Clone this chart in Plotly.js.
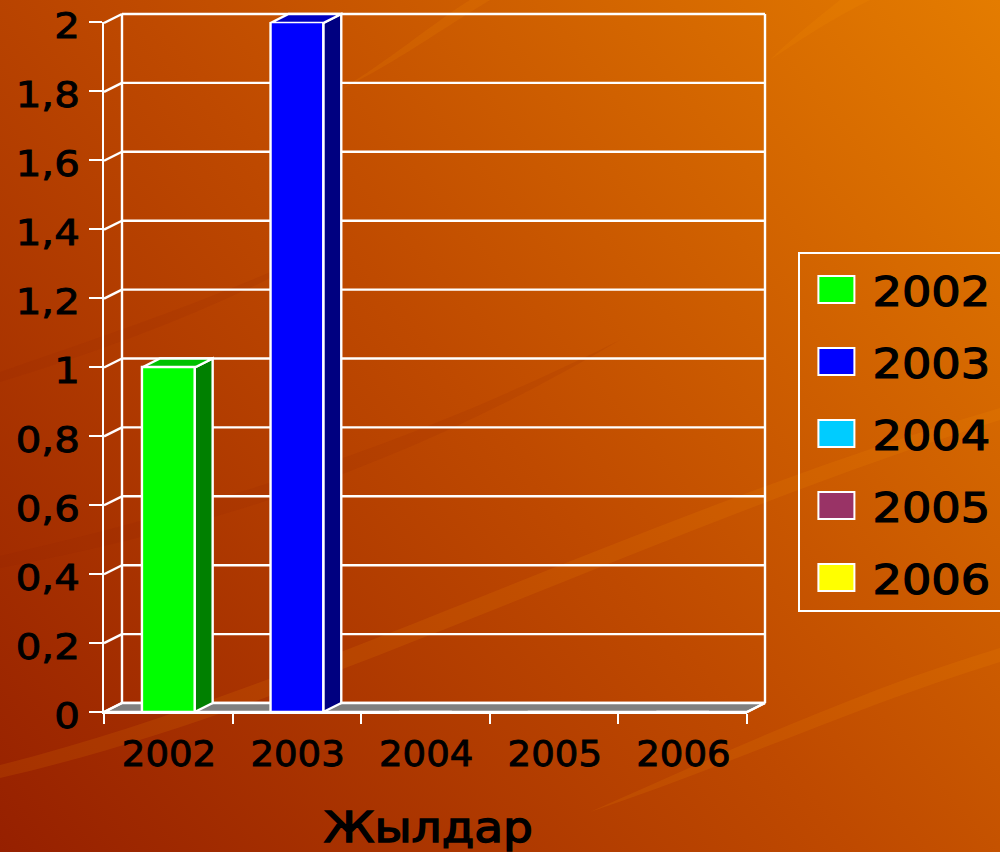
<!DOCTYPE html>
<html>
<head>
<meta charset="utf-8">
<script src="https://cdn.plot.ly/plotly-3.0.1.min.js"></script>
<style>
html,body{margin:0;padding:0;width:1000px;height:852px;overflow:hidden;background:#c04c00}
#bg{position:absolute;left:0;top:0}
#chart{position:absolute;left:0;top:0;width:1000px;height:852px}
</style>
</head>
<body>
<svg id="bg" width="1000" height="852" viewBox="0 0 1000 852">
<defs><linearGradient id="g" gradientUnits="userSpaceOnUse" x1="0" y1="852" x2="1000" y2="0">
<stop offset="0" stop-color="#962000"/><stop offset="0.5" stop-color="#bf4a00"/><stop offset="1" stop-color="#e47c00"/>
</linearGradient></defs>
<rect width="1000" height="852" fill="url(#g)"/>
<g fill="#ff9a00" fill-opacity="0.12">
<path d="M0 765 C300 690 650 510 1000 408 L1000 420 C650 530 300 710 0 778Z"/>
<path d="M590 812 C730 750 860 690 1000 648 L1000 662 C860 705 730 765 590 812Z"/>
<path d="M340 90 C400 60 440 30 490 0 L470 0 C430 25 390 60 340 90Z"/>
<path d="M770 60 C800 40 830 20 870 0 L840 0 C815 20 790 40 770 60Z"/>
</g>
<g fill="#8a1e00" fill-opacity="0.10">
<path d="M0 372 C120 330 240 290 340 240 C240 300 120 345 0 382Z"/>
<path d="M0 556 C200 510 400 450 620 340 C400 470 200 530 0 568Z"/>
</g>
</svg>
<div id="chart"></div>
<script>
const categories = ['2002', '2003', '2004', '2005', '2006'];
const seriesValues = [1, 2, 0, 0, 0];
const frontColors = ['#00ff00', '#0000ff', '#00ccff', '#993366', '#ffff00'];
const sideColors = ['#008000', '#000080', '#006680', '#4d1933', '#808000'];
const topColors = ['#00c000', '#0000c0', '#0099c0', '#73264d', '#c0c000'];
const yTickVals = [0, 0.2, 0.4, 0.6, 0.8, 1, 1.2, 1.4, 1.6, 1.8, 2];
const yTickText = ['0', '0,2', '0,4', '0,6', '0,8', '1', '1,2', '1,4', '1,6', '1,8', '2'];
const xAxisTitle = 'Жылдар';

const W = 1000, H = 852;
const frontBox = {l: 104, r: 747, t: 22, b: 712};
const backBox = {l: 122, r: 765, t: 14, b: 703};
const pxPerCat = (frontBox.r - frontBox.l) / 5;
const pxPerVal = (frontBox.b - frontBox.t) / 2;
const depthX = (backBox.l - frontBox.l) / pxPerCat;
const depthY = (frontBox.b - backBox.b) / pxPerVal;
const barW = 0.41;
const xMin = -0.5, xMax = 4.5;
const pad = 4; // room round the 3D box so its outer lines are not clipped
const font = 'DejaVu Sans, sans-serif';
const white = '#ffffff';

const traces = [];
function helper(x, y, fill, line) {
  traces.push({type: 'scatter', mode: 'lines', x, y, xaxis: 'x', yaxis: 'y',
    fill: fill ? 'toself' : 'none', fillcolor: fill || undefined,
    line: {color: line || white, width: 2.4}, showlegend: false, hoverinfo: 'skip'});
}
// back wall: gridlines, frame
const gx = [], gy = [];
yTickVals.forEach(v => { gx.push(xMin, xMax, null); gy.push(v, v, null); });
gx.push(xMin, xMin, null, xMax, xMax); gy.push(0, 2, null, 0, 2);
helper(gx, gy);
// floor
helper([xMin - depthX, xMin, xMax, xMax - depthX, xMin - depthX],
       [-depthY, 0, 0, -depthY, -depthY], '#808080');
// depth connectors from front axis to back wall
const cx = [], cy = [];
yTickVals.forEach(v => { cx.push(xMin - depthX, xMin, null); cy.push(v - depthY, v, null); });
cx.push(xMax - depthX, xMax); cy.push(-depthY, 0);
helper(cx, cy);
// side and top faces of the bars
seriesValues.forEach((v, i) => {
  if (!v) return;
  const xl = i - barW / 2, xr = i + barW / 2;
  helper([xr - depthX, xr - depthX, xr, xr, xr - depthX], [-depthY, v - depthY, v, 0, -depthY], sideColors[i]);
  helper([xl - depthX, xr - depthX, xr, xl, xl - depthX], [v - depthY, v - depthY, v, v, v - depthY], topColors[i]);
});
// front faces
categories.forEach((c, i) => {
  traces.push({type: 'bar', name: c, x: [i], y: [seriesValues[i]], width: barW,
    xaxis: 'x2', yaxis: 'y2', legendgroup: c, cliponaxis: false,
    marker: {color: frontColors[i], line: {color: white, width: 2.4}}, hoverinfo: 'x+y'});
});

const layout = {
  width: W, height: H, margin: {l: 0, r: 0, t: 0, b: 0, autoexpand: false},
  paper_bgcolor: 'rgba(0,0,0,0)', plot_bgcolor: 'rgba(0,0,0,0)',
  font: {family: font, color: '#000000'},
  barmode: 'overlay', hovermode: 'closest',
  xaxis: {domain: [(frontBox.l - pad) / W, (backBox.r + pad) / W],
    range: [xMin - depthX - pad / pxPerCat, xMax + pad / pxPerCat], anchor: 'y',
    showgrid: false, zeroline: false, showticklabels: false, ticks: '', showline: false},
  yaxis: {domain: [1 - (frontBox.b + pad) / H, 1 - (backBox.t - pad) / H],
    range: [-depthY - pad / pxPerVal, 2 + pad / pxPerVal], anchor: 'x',
    showgrid: false, zeroline: false, showticklabels: false, ticks: '', showline: false},
  xaxis2: {domain: [frontBox.l / W, frontBox.r / W], range: [xMin, xMax], anchor: 'y2',
    tickvals: [-0.5, 0.5, 1.5, 2.5, 3.5, 4.5],
    ticktext: categories.concat(['']),
    ticklabelshift: 65, ticklabelstandoff: 0,
    showgrid: false, zeroline: false, ticks: 'outside', ticklen: 10, tickwidth: 2.4, tickcolor: white,
    showline: true, linecolor: white, linewidth: 2.4,
    tickfont: {family: font, size: 35, color: '#000000'}},
  yaxis2: {domain: [1 - frontBox.b / H, 1 - frontBox.t / H], range: [0, 2], anchor: 'x2',
    tickvals: yTickVals, ticktext: yTickText, ticklabelstandoff: 2,
    showgrid: false, zeroline: false, ticks: 'outside', ticklen: 13, tickwidth: 2.4, tickcolor: white,
    showline: true, linecolor: white, linewidth: 2.4,
    tickfont: {family: font, size: 35, color: '#000000'}},
  annotations: [{xref: 'paper', yref: 'paper', x: 428 / W, y: 1 - 827 / H, xanchor: 'center', yanchor: 'middle',
    text: xAxisTitle, showarrow: false, font: {family: font, size: 42, color: '#000000'}}],
  legend: {x: 798 / W, y: 1 - 254 / H, xanchor: 'left', yanchor: 'top',
    bgcolor: 'rgba(0,0,0,0)', bordercolor: white, borderwidth: 2.4,
    font: {family: font, size: 41, color: '#000000'},
    traceorder: 'grouped', tracegroupgap: 15.7, itemwidth: 62, itemclick: false, itemdoubleclick: false}
};

function stretch(selector, factor, strokeW) {
  document.querySelectorAll(selector).forEach(t => {
    const len = t.getComputedTextLength();
    if (!len) return;
    t.setAttribute('textLength', len * factor);
    t.setAttribute('lengthAdjust', 'spacingAndGlyphs');
    t.style.stroke = '#000000';
    t.style.strokeWidth = strokeW + 'px';
  });
}

Plotly.newPlot('chart', traces, layout, {displayModeBar: false}).then(() => {
  document.querySelectorAll('#chart .legend .legendpoints path').forEach(p => {
    p.setAttribute('d', 'M18,13.5H-18V-13.5H18Z');
    p.style.strokeWidth = '2px';
  });
  const bg = document.querySelector('#chart .legend rect.bg');
  if (bg) {
    bg.setAttribute('width', 220);
    bg.setAttribute('y', -1);
    bg.setAttribute('height', 358);
  }
  const sb = document.querySelector('#chart .legend .scrollbox');
  if (sb) sb.removeAttribute('clip-path');
  const lg = document.querySelector('#chart .legend');
  if (lg) lg.removeAttribute('clip-path');
  stretch('#chart .x2tick text', 1.06, 0.9);
  stretch('#chart .y2tick text', 1.15, 0.9);
  document.querySelectorAll('#chart .y2tick text').forEach(t => t.setAttribute('dy', 4));
  stretch('#chart .legendtext', 1.13, 1.2);
  stretch('#chart .annotation-text', 1.12, 1.4);
});
</script>
</body>
</html>
